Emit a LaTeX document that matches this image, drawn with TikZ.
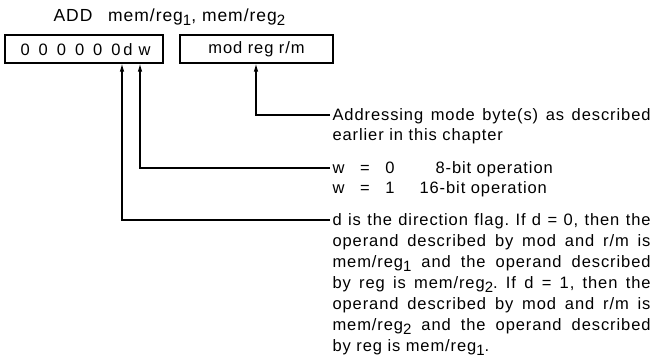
\documentclass[tikz,border=0pt]{standalone}
\usepackage{fontspec}
\setmainfont{Liberation Sans}[LetterSpace=5.5]
\usetikzlibrary{arrows.meta}
\newcommand{\lowidx}[1]{\raisebox{-4.5pt}{\fontsize{15}{15}\selectfont #1}}
\newcommand{\fullline}[1]{\makebox[318pt][s]{#1}}
\frenchspacing

\begin{document}
\begin{tikzpicture}[x=1pt,y=-1pt,line width=1.1pt,
  every node/.style={font=\fontsize{16.5}{21}\selectfont},
  field/.style={draw,minimum height=28pt,inner sep=0pt},
  note/.style={anchor=base west,inner sep=0pt},
  bitchar/.style={anchor=base,inner sep=0pt},
  pointer/.style={-{Latex[length=8pt,width=4.5pt]}}]
\useasboundingbox (0,0) rectangle (654,362);

\node[note,font=\fontsize{17.5}{21}\selectfont] (title) at (53,21) {ADD\hspace{0.9em}mem/reg\lowidx{1}, mem/reg\lowidx{2}};

\node[field,minimum width=158pt] (opbox) at (84,49) {};
\node[note] (zeros) at (20,55) {\makebox[100pt][s]{0 0 0 0 0 0}};
\node[bitchar] (dchar) at (128,55) {d};
\node[bitchar] (wchar) at (144.5,55) {w};
\node[field,minimum width=153pt] (modbox) at (256.5,49) {mod reg r/m};

\coordinate (dbit) at (opbox.south -| 122,0);
\coordinate (wbit) at (opbox.south -| 140,0);
\coordinate (modbits) at (modbox.south -| 256,0);

\node[note] (modtxt) at (332,120) {\parbox[t]{318pt}{\baselineskip=20.5pt
  \fullline{Addressing mode byte(s) as described}\\
  earlier in this chapter}};
\node[note] (wtxt) at (332,173) {\parbox[t]{318pt}{\baselineskip=20pt
  \makebox[62pt][s]{w = 0}\hspace{41pt}8-bit operation\\
  \makebox[62pt][s]{w = 1}\hspace{25pt}16-bit operation}};
\node[note] (dtxt) at (332,225) {\parbox[t]{318pt}{\baselineskip=21pt
  \fullline{d is the direction flag. If d = 0, then the}\\
  \fullline{operand described by mod and r/m is}\\
  \fullline{mem/reg\lowidx{1} and the operand described}\\
  \fullline{by reg is mem/reg\lowidx{2}. If d = 1, then the}\\
  \fullline{operand described by mod and r/m is}\\
  \fullline{mem/reg\lowidx{2} and the operand described}\\
  by reg is mem/reg\lowidx{1}.}};

\coordinate (modlead) at (330,115);
\coordinate (wlead) at (330,168);
\coordinate (dlead) at (330,220);

\draw[pointer] (modlead) -| (modbits);
\draw[pointer] (wlead) -| (wbit);
\draw[pointer] (dlead) -| (dbit);
\end{tikzpicture}
\end{document}
